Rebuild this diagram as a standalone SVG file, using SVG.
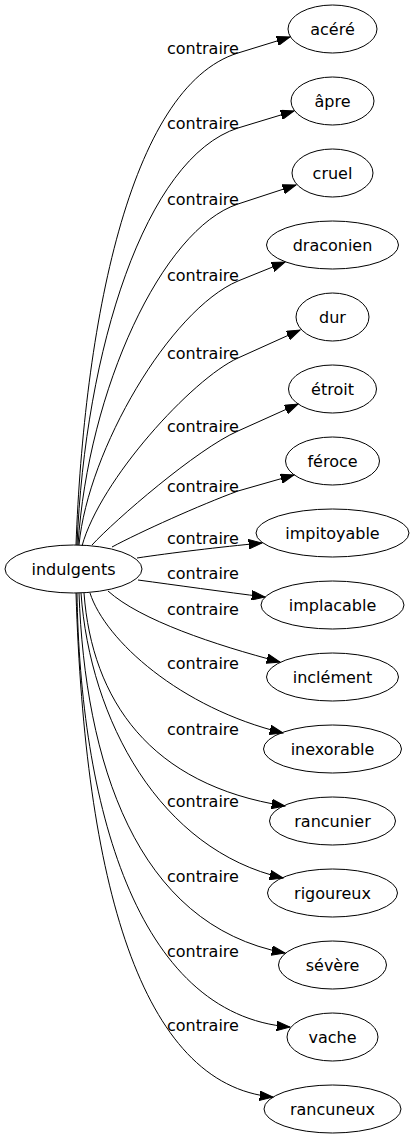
<svg xmlns="http://www.w3.org/2000/svg" width="414" height="1139" viewBox="0 0 414 1139">
<style>
.n ellipse{fill:none;stroke:#000;stroke-width:1}
.n text{font-family:"DejaVu Sans",sans-serif;font-size:16px;fill:#000;text-anchor:middle}
#edges path{fill:none;stroke:#000;stroke-width:1;marker-end:url(#arr)}
#edges text{font-family:"DejaVu Sans",sans-serif;font-size:16px;fill:#000}
</style>
<defs>
<marker id="arr" markerUnits="userSpaceOnUse" markerWidth="14" markerHeight="10" viewBox="0 0 14 10" refX="13.3" refY="5" orient="auto">
<path d="M0,0.3 L13.3,5 L0,9.7 Z" fill="#000" stroke="#000" stroke-width="1"/>
</marker>
</defs>
<rect width="414" height="1139" fill="#fff"/>
<g id="edges">
<path d="M76,545 C84,330 128,87 238,53 L290,37"/>
<text x="167" y="54">contraire</text>
<path d="M77,545 C85,350 145,158 238,128 L294,111"/>
<text x="167" y="129">contraire</text>
<path d="M78,545 C88,390 162,229 238,204 L296,185"/>
<text x="167" y="205">contraire</text>
<path d="M79,545 C88,450 170,310 238,281 L285,262"/>
<text x="167" y="281">contraire</text>
<path d="M82,546 C100,480 192,379 238,358 L300,330"/>
<text x="167" y="359">contraire</text>
<path d="M92,545 C115,520 197,449 238,431 L298,404"/>
<text x="167" y="432">contraire</text>
<path d="M112,547 C140,532 200,505 238,491 L294,475"/>
<text x="167" y="492">contraire</text>
<path d="M137,558 C170,553 220,547 262,543"/>
<text x="167" y="544">contraire</text>
<path d="M138,580 C175,585 225,592 265,597"/>
<text x="167" y="579">contraire</text>
<path d="M108,591 C140,620 215,645 280,662"/>
<text x="167" y="615">contraire</text>
<path d="M90,593 C105,640 180,708 283,733"/>
<text x="167" y="669">contraire</text>
<path d="M84,593 C92,700 150,785 285,806"/>
<text x="167" y="735">contraire</text>
<path d="M81,593 C90,720 160,850 283,878"/>
<text x="167" y="807">contraire</text>
<path d="M79,593 C85,760 135,925 285,953"/>
<text x="167" y="882">contraire</text>
<path d="M77,593 C80,800 135,1015 290,1027"/>
<text x="167" y="957">contraire</text>
<path d="M76,593 C85,880 140,1085 273,1097"/>
<text x="167" y="1031">contraire</text>
</g>
<g id="n0" class="n"><ellipse cx="73.5" cy="569" rx="68.5" ry="24"/><text x="73.5" y="575">indulgents</text></g>
<g id="n1" class="n"><ellipse cx="332.5" cy="29" rx="44.5" ry="24"/><text x="332.5" y="34.5">acéré</text></g>
<g id="n2" class="n"><ellipse cx="332.5" cy="101" rx="41.5" ry="24"/><text x="332.5" y="106.5">âpre</text></g>
<g id="n3" class="n"><ellipse cx="332.5" cy="173" rx="40.5" ry="24"/><text x="332.5" y="178.5">cruel</text></g>
<g id="n4" class="n"><ellipse cx="332.5" cy="245" rx="66" ry="24"/><text x="332.5" y="250.5">draconien</text></g>
<g id="n5" class="n"><ellipse cx="332.5" cy="317" rx="36.5" ry="24"/><text x="332.5" y="322.5">dur</text></g>
<g id="n6" class="n"><ellipse cx="332.5" cy="389" rx="44" ry="24"/><text x="332.5" y="394.5">étroit</text></g>
<g id="n7" class="n"><ellipse cx="332.5" cy="461" rx="47" ry="24"/><text x="332.5" y="466.5">féroce</text></g>
<g id="n8" class="n"><ellipse cx="332.5" cy="533" rx="76.5" ry="24"/><text x="332.5" y="538.5">impitoyable</text></g>
<g id="n9" class="n"><ellipse cx="332.5" cy="605" rx="71.5" ry="24"/><text x="332.5" y="610.5">implacable</text></g>
<g id="n10" class="n"><ellipse cx="332.5" cy="677" rx="66" ry="24"/><text x="332.5" y="682.5">inclément</text></g>
<g id="n11" class="n"><ellipse cx="332.5" cy="749" rx="69" ry="24"/><text x="332.5" y="754.5">inexorable</text></g>
<g id="n12" class="n"><ellipse cx="332.5" cy="821" rx="63" ry="24"/><text x="332.5" y="826.5">rancunier</text></g>
<g id="n13" class="n"><ellipse cx="332.5" cy="893" rx="65" ry="24"/><text x="332.5" y="898.5">rigoureux</text></g>
<g id="n14" class="n"><ellipse cx="332.5" cy="965" rx="54" ry="24"/><text x="332.5" y="970.5">sévère</text></g>
<g id="n15" class="n"><ellipse cx="332.5" cy="1037" rx="45.5" ry="24"/><text x="332.5" y="1042.5">vache</text></g>
<g id="n16" class="n"><ellipse cx="332.5" cy="1109" rx="68.5" ry="24"/><text x="332.5" y="1114.5">rancuneux</text></g>
</svg>
